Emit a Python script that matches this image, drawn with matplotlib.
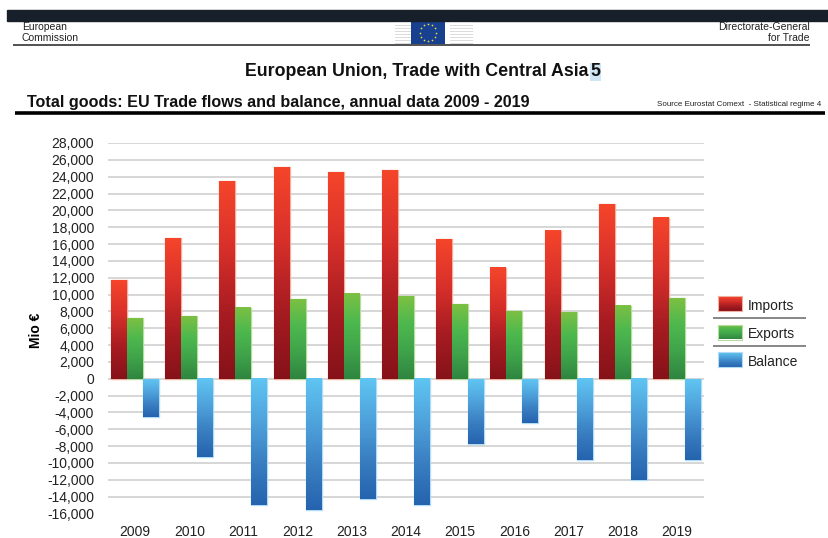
import numpy as np
import matplotlib
matplotlib.use('Agg')
import matplotlib.pyplot as plt
from matplotlib.colors import LinearSegmentedColormap
from matplotlib.patches import Rectangle
from matplotlib.lines import Line2D

plt.rcParams['font.family'] = ['Liberation Sans', 'DejaVu Sans']

years = ['2009', '2010', '2011', '2012', '2013', '2014', '2015', '2016', '2017', '2018', '2019']
imports = [11700, 16700, 23500, 25100, 24500, 24800, 16600, 13200, 17600, 20700, 19150]
exports = [7200, 7400, 8450, 9500, 10100, 9800, 8900, 8000, 7900, 8700, 9600]
balance = [-4500, -9300, -15000, -15600, -14300, -15000, -7700, -5200, -9700, -12000, -9600]
series_names = ['Imports', 'Exports', 'Balance']
yticks = list(range(-16000, 28001, 2000))

W, H = 829, 538
fig = plt.figure(figsize=(W / 100, H / 100), dpi=100)


def px_axes(x0, y0, x1, y1):
    return fig.add_axes([x0 / W, 1 - y1 / H, (x1 - x0) / W, (y1 - y0) / H])


cmaps = {
    'Imports': LinearSegmentedColormap.from_list('i', ['#f5452a', '#d8302a', '#a81c22', '#861219']),
    'Exports': LinearSegmentedColormap.from_list('e', ['#7cc043', '#4db84e', '#3fa34a', '#2f8540']),
    'Balance': LinearSegmentedColormap.from_list('b', ['#5fc5f2', '#4fa3dc', '#3a7fc2', '#2563ae']),
}
edges = {'Imports': '#f0b0a0', 'Exports': '#b8dca0', 'Balance': '#b0dcf5'}
grad = np.linspace(0, 1, 128).reshape(-1, 1)

ax = px_axes(108, 143, 704, 513.5)
ax.set_xlim(-0.5, 10.5)
ax.set_ylim(-16000, 28000)
ax.set_axisbelow(True)
ax.set_yticks(yticks)
ax.set_yticklabels([f'{v:,}' for v in yticks], fontsize=10, color='#222222')
ax.set_xticks(range(len(years)))
ax.set_xticklabels(years, fontsize=10, color='#222222')
ax.tick_params(axis='both', length=0)
ax.tick_params(axis='x', pad=8)
ax.tick_params(axis='y', pad=10)
for s in ax.spines.values():
    s.set_visible(False)
for v in yticks:
    if v > -16000:
        ax.axhline(v, color='#d6d6d6', lw=1.4, zorder=0)

w = 0.295
x = np.arange(len(years))
for off, vals, name in zip((-w, 0, w), (imports, exports, balance), series_names):
    bars = ax.bar(x + off, vals, width=w, facecolor='none', edgecolor=edges[name], lw=1.0, zorder=2.4)
    for b in bars:
        y0, y1 = b.get_y(), b.get_y() + b.get_height()
        lo, hi = min(y0, y1), max(y0, y1)
        ax.imshow(grad, cmap=cmaps[name], aspect='auto', zorder=2.5,
                  extent=(b.get_x(), b.get_x() + b.get_width(), lo, hi), origin='upper')
ax.set_xlim(-0.5, 10.5)
ax.set_ylim(-16000, 28000)

fig.text(36 / W, 1 - 330 / H, 'Mio €', rotation=90, fontsize=10, fontweight='bold', ha='center', va='center')

# legend
for name, (ya, yb) in zip(series_names, ((296, 311), (324.5, 339.5), (352, 367))):
    lax = px_axes(718, ya, 742, yb)
    lax.imshow(grad, cmap=cmaps[name], aspect='auto')
    lax.set_xticks([]); lax.set_yticks([])
    for s in lax.spines.values():
        s.set_edgecolor(edges[name]); s.set_linewidth(0.8)
    fig.text(748 / W, 1 - ((ya + yb) / 2 + 2.3) / H, name, fontsize=10, color='#222222', va='center')


def hline(y, x0, x1, color, lw):
    fig.add_artist(Line2D([x0 / W, x1 / W], [1 - y / H] * 2, color=color, lw=lw, solid_capstyle='butt'))


hline(318, 713, 806, '#666666', 1.1)
hline(346, 713, 806, '#666666', 1.1)

# header
fig.add_artist(Rectangle((7 / W, 1 - 21 / H), (W - 7) / W, 11 / H, transform=fig.transFigure, color='#17202a'))
hline(45, 13, 810, '#333333', 1.2)
hline(113, 15, 825, '#000000', 2.6)
fig.text(22 / W, 1 - 27 / H, 'European', fontsize=7.5, va='center', color='#222222')
fig.text(22 / W, 1 - 38 / H, 'Commission', fontsize=7.5, va='center', color='#222222')
fig.text(810 / W, 1 - 27 / H, 'Directorate-General', fontsize=7.5, va='center', ha='right', color='#222222')
fig.text(810 / W, 1 - 38 / H, 'for Trade', fontsize=7.5, va='center', ha='right', color='#222222')

# logo
for xa, xb in ((395, 411), (450, 473)):
    for yy in np.arange(23, 45, 3):
        fig.add_artist(Rectangle((xa / W, 1 - yy / H), (xb - xa) / W, 1.0 / H, transform=fig.transFigure,
                                 facecolor='#dcdcdc', edgecolor='none'))
flag = px_axes(411, 21, 445, 44)
flag.set_facecolor('#17408f')
flag.set_xticks([]); flag.set_yticks([])
for s in flag.spines.values():
    s.set_visible(False)
flag.set_xlim(-1.5, 1.5); flag.set_ylim(-1, 1)
t = np.linspace(0, 2 * np.pi, 12, endpoint=False)
flag.scatter(0.72 * np.cos(t), 0.72 * np.sin(t), s=1.5, color='#f4d53a', linewidths=0)

fig.text(245 / W, 1 - 72 / H, 'European Union, Trade with Central Asia', fontsize=12.75, fontweight='bold', ha='left', va='center', color='#111111')
fig.text(595.5 / W, 1 - 72 / H, '5', fontsize=12.75, fontweight='bold', ha='center', va='center', color='#111111',
         bbox=dict(facecolor='#cfe6f5', edgecolor='none', pad=0.2))
fig.text(27 / W, 1 - 102 / H, 'Total goods: EU Trade flows and balance, annual data 2009 - 2019', fontsize=11.65, fontweight='bold', va='center', color='#111111')
fig.text(821 / W, 1 - 105 / H, 'Source Eurostat Comext  - Statistical regime 4', fontsize=5.8, ha='right', va='center', color='#222222')

fig.savefig('out.png', dpi=100)
